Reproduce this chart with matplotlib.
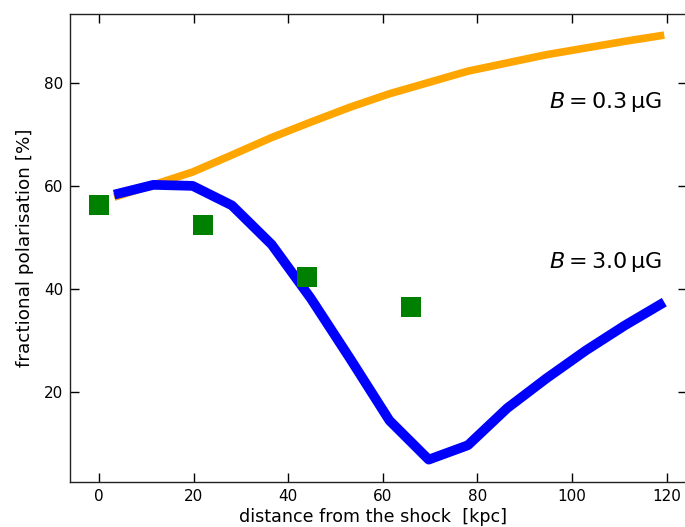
import numpy as np
import matplotlib
matplotlib.use("Agg")
import matplotlib.pyplot as plt

# model curves, sampled along the distance from the shock [kpc]
dist = [3.2, 11.5, 19.8, 28.1, 36.5, 44.8, 53.1, 61.4, 69.7, 78.0, 86.3, 94.6, 102.9, 111.2, 119.5]
pol_weak = [57.9, 60.3, 62.8, 66.1, 69.5, 72.5, 75.4, 78.0, 80.2, 82.4, 84.0, 85.6, 86.9, 88.2, 89.4]
pol_strong = [58.4, 60.3, 60.1, 56.3, 48.7, 38.2, 26.5, 14.5, 6.9, 9.7, 16.9, 22.7, 28.1, 33.0, 37.5]

# observed points
obs_dist = [0, 22, 44, 66]
obs_pol = [56.3, 52.4, 42.3, 36.6]

fig = plt.figure(figsize=(6.85, 5.27), dpi=100)
ax = fig.add_axes([0.1029, 0.0854, 0.900, 0.888])

ax.plot(dist, pol_weak, color='orange', lw=5.5, solid_capstyle='butt')
ax.plot(dist, pol_strong, color='blue', lw=7, solid_capstyle='butt')
ax.plot(obs_dist, obs_pol, 's', color='green', ms=14, mew=0)

ax.text(119, 76.4, r'$B = 0.3\,\mathrm{\mu G}$', fontsize=16, ha='right', va='center')
ax.text(119, 45.4, r'$B = 3.0\,\mathrm{\mu G}$', fontsize=16, ha='right', va='center')

ax.set_xlim(-6.03, 124.3)
ax.set_ylim(2.55, 93.5)
ax.set_xticks([0, 20, 40, 60, 80, 100, 120])
ax.set_yticks([20, 40, 60, 80])
ax.tick_params(direction='in', length=6.5, width=1, top=True, right=True,
               labelsize=11, pad=5)
for s in ax.spines.values():
    s.set_color('#222222')
    s.set_linewidth(1)

ax.set_xlabel('distance from the shock  [kpc]', fontsize=12.6)
ax.set_ylabel('fractional polarisation [%]', fontsize=13.2)
ax.xaxis.set_label_coords(0.4907, -0.056)
ax.yaxis.set_label_coords(-0.0587, 0.5)

fig.savefig('out.png', dpi=100)
